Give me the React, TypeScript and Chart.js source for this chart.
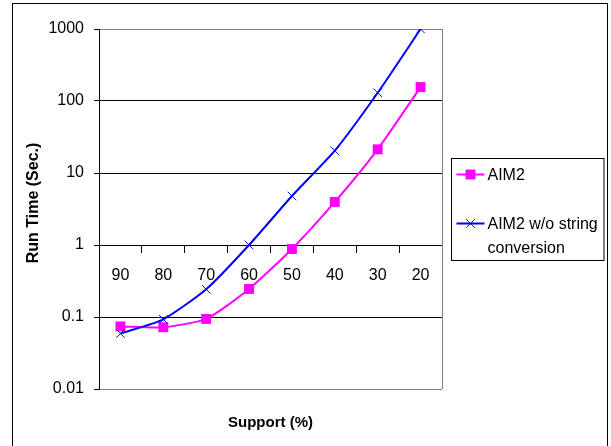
import React, { useEffect, useRef } from "react";
import { Chart, registerables } from "chart.js";

Chart.register(...registerables);

const categories = ["90", "80", "70", "60", "50", "40", "30", "20"];
const aim2Values = [0.074, 0.072, 0.094, 0.245, 0.88, 3.96, 21.3, 156];
const aim2NoStringValues = [0.059, 0.093, 0.243, 1.0, 4.79, 20.4, 130, 1000];
const yTickValues = [0.01, 0.1, 1, 10, 100, 1000];
const yTickLabels = ["0.01", "0.1", "1", "10", "100", "1000"];
const seriesNames = [["AIM2"], ["AIM2 w/o string", "conversion"]];
const xTitle = "Support (%)";
const yTitle = "Run Time (Sec.)";

const FONT_FAMILY = '"Liberation Sans", Arial, sans-serif';

function drawMarker(ctx: CanvasRenderingContext2D, style: string, x: number, y: number, r: number, color: string) {
  ctx.save();
  const s = Math.SQRT1_2 * r;
  if (style === "rect") {
    ctx.fillStyle = color;
    ctx.fillRect(x - s, y - s, 2 * s, 2 * s);
  } else {
    ctx.strokeStyle = color;
    ctx.lineWidth = 1;
    ctx.beginPath();
    ctx.moveTo(x - s, y - s);
    ctx.lineTo(x + s, y + s);
    ctx.moveTo(x - s, y + s);
    ctx.lineTo(x + s, y - s);
    ctx.stroke();
  }
  ctx.restore();
}

const decorPlugin = {
  id: "decor",
  beforeDraw(chart: any) {
    const { ctx, width, height } = chart;
    ctx.save();
    ctx.fillStyle = "#fff";
    ctx.fillRect(0, 0, width, height);
    ctx.restore();
  },
  afterDraw(chart: any) {
    const { ctx, chartArea: a, width } = chart;
    ctx.save();
    // outer frame
    ctx.strokeStyle = "#000";
    ctx.lineWidth = 1;
    ctx.strokeRect(12.5, 3.5, width - 4 - 12, 600);
    // plot area right edge
    ctx.strokeStyle = "#808080";
    ctx.beginPath();
    ctx.moveTo(Math.round(a.right) + 0.5, a.top);
    ctx.lineTo(Math.round(a.right) + 0.5, a.bottom);
    ctx.stroke();

    ctx.fillStyle = "#000";
    ctx.textAlign = "center";
    ctx.textBaseline = "middle";
    // x title
    ctx.font = `bold 15px ${FONT_FAMILY}`;
    ctx.fillText(xTitle, (a.left + a.right) / 2, a.bottom + 34);
    // y title
    ctx.font = `bold 16px ${FONT_FAMILY}`;
    ctx.save();
    ctx.translate(34, (a.top + a.bottom) / 2 - 6);
    ctx.rotate(-Math.PI / 2);
    ctx.fillText(yTitle, 0, 0);
    ctx.restore();

    // legend
    const cy = (a.top + a.bottom) / 2;
    const bx = Math.round(a.right) + 9.5;
    const bw = width - 7 - bx;
    const by = Math.round(cy - 51) + 0.5;
    const bh = 102;
    ctx.strokeStyle = "#000";
    ctx.lineWidth = 1;
    ctx.strokeRect(bx, by, bw, bh);
    ctx.font = `16px ${FONT_FAMILY}`;
    ctx.textAlign = "left";
    const itemOffsets = [16, 65];
    chart.data.datasets.forEach((ds: any, i: number) => {
      const y = by + itemOffsets[i];
      ctx.strokeStyle = ds.borderColor;
      ctx.lineWidth = 2;
      ctx.beginPath();
      ctx.moveTo(bx + 5, y);
      ctx.lineTo(bx + 33, y);
      ctx.stroke();
      drawMarker(ctx, ds.pointStyle, bx + 19, y, ds.pointRadius, ds.borderColor);
      ctx.fillStyle = "#000";
      seriesNames[i].forEach((line, j) => {
        ctx.fillText(line, bx + 36, y + 1 + j * 24);
      });
    });
    ctx.restore();
  },
};

export default function App() {
  const canvasRef = useRef<HTMLCanvasElement | null>(null);

  useEffect(() => {
    if (!canvasRef.current) return;
    const tickFont = { family: FONT_FAMILY, size: 16 };
    const chart = new Chart(canvasRef.current, {
      type: "line",
      data: {
        labels: categories,
        datasets: [
          {
            label: seriesNames[0].join(" "),
            data: aim2Values,
            borderColor: "#FF00FF",
            backgroundColor: "#FF00FF",
            pointBackgroundColor: "#FF00FF",
            pointBorderColor: "#FF00FF",
            pointStyle: "rect",
            pointRadius: 7,
            pointBorderWidth: 0,
            borderWidth: 2,
            tension: 0.2,
            fill: false,
            order: 1,
          },
          {
            label: seriesNames[1].join(" "),
            data: aim2NoStringValues,
            borderColor: "#0000FF",
            backgroundColor: "#0000FF",
            pointBorderColor: "#0000FF",
            pointStyle: "crossRot",
            pointRadius: 6,
            pointBorderWidth: 1,
            borderWidth: 2,
            tension: 0.2,
            fill: false,
            order: 0,
          },
        ],
      },
      options: {
        responsive: false,
        animation: false,
        devicePixelRatio: 1,
        layout: { padding: { top: 29, left: 0, right: 169, bottom: 57 } },
        plugins: {
          legend: { display: false },
          tooltip: { enabled: false },
          title: { display: false },
        },
        scales: {
          x: {
            type: "category",
            position: { y: 1 } as any,
            offset: true,
            grid: {
              display: true,
              drawOnChartArea: false,
              drawTicks: true,
              tickLength: 7,
              tickColor: "#000",
              color: "#000",
              offset: true,
            },
            border: { display: true, color: "#000", width: 1 },
            ticks: { color: "#000", font: tickFont, padding: 14, maxRotation: 0, autoSkip: false },
          },
          y: {
            type: "logarithmic",
            position: "left",
            min: 0.01,
            max: 1000,
            afterBuildTicks: (s: any) => {
              s.ticks = yTickValues.map((v) => ({ value: v }));
            },
            ticks: {
              color: "#000",
              font: tickFont,
              padding: 10,
              autoSkip: false,
              callback: (v: any) => {
                const idx = yTickValues.findIndex((t) => Math.abs(Math.log10(t) - Math.log10(Number(v))) < 1e-6);
                return idx >= 0 ? yTickLabels[idx] : "";
              },
            },
            grid: {
              color: (c: any) =>
                c.tick && (c.tick.value === 1000 || c.tick.value === 0.01) ? "#808080" : "#000",
              tickColor: "#000",
              tickLength: 5,
              drawTicks: true,
            },
            border: { display: true, color: "#000", width: 1 },
            afterFit: (s: any) => {
              s.width = 99;
            },
          },
        },
      },
      plugins: [decorPlugin],
    });
    return () => chart.destroy();
  }, []);

  return (
    <div style={{ position: "fixed", left: 0, top: 0, width: 611, height: 446, overflow: "hidden", background: "#fff" }}>
      <canvas ref={canvasRef} width={611} height={446} style={{ display: "block", width: 611, height: 446 }} />
    </div>
  );
}
